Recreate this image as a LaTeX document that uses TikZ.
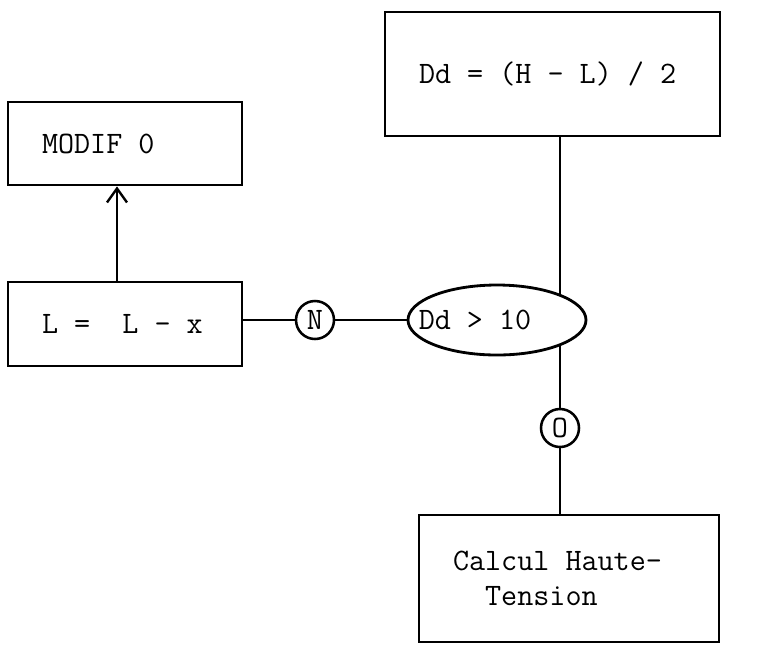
\documentclass[tikz,border=0pt]{standalone}
\usetikzlibrary{arrows.meta,shapes.geometric,backgrounds}

\begin{document}
\begin{tikzpicture}[
	font=\ttfamily\fontsize{22.2}{24.9}\selectfont,
	box/.style={draw, line width=2pt, align=flush left, inner xsep=0.85cm, inner ysep=0pt},
	choice/.style={draw, circle, line width=1.8pt, fill=white, inner sep=0pt, minimum size=0.95cm},
	link/.style={line width=1.7pt}
]
	\useasboundingbox (0, 0) rectangle (19.4, -16.125);

	\node[box, text width=6.675cm, minimum height=3.1cm] (calc) at (13.8125, -1.85) {Dd = (H - L) / 2};
	\node[box, text width=4.15cm, minimum height=2.075cm] (modif) at (3.125, -3.5875) {MODIF 0};
	\node[box, text width=4.15cm, minimum height=2.1cm] (lmoins) at (3.125, -8.1) {L = \ L - x};

	\node[draw, ellipse, line width=2pt, fill=white, inner sep=0pt,
		minimum width=4.45cm, minimum height=1.75cm] (test) at (12.425, -8.0)
		{\makebox[0pt]{Dd > 10\hspace*{1.1cm}}};
	\node[choice] (non) at (7.875, -8.0) {N};
	\node[choice] (oui) at (14.0, -10.7) {O};

	\node[box, text width=5.8cm, minimum height=3.175cm] (ht) at (14.225, -14.46) {Calcul Haute-\\\phantom{Ca}Tension};

	% lines run under the ellipse and the circles
	\begin{scope}[on background layer]
		\draw[link] (lmoins.east |- non) -- (test);
		\draw[link] (calc.south -| oui) -- (ht.north -| oui);
	\end{scope}

	\draw[link, -{Straight Barb[length=3.5mm, width=5mm]}] ([xshift=-2mm]lmoins.north) -- ([xshift=-2mm]modif.south);
\end{tikzpicture}
\end{document}
